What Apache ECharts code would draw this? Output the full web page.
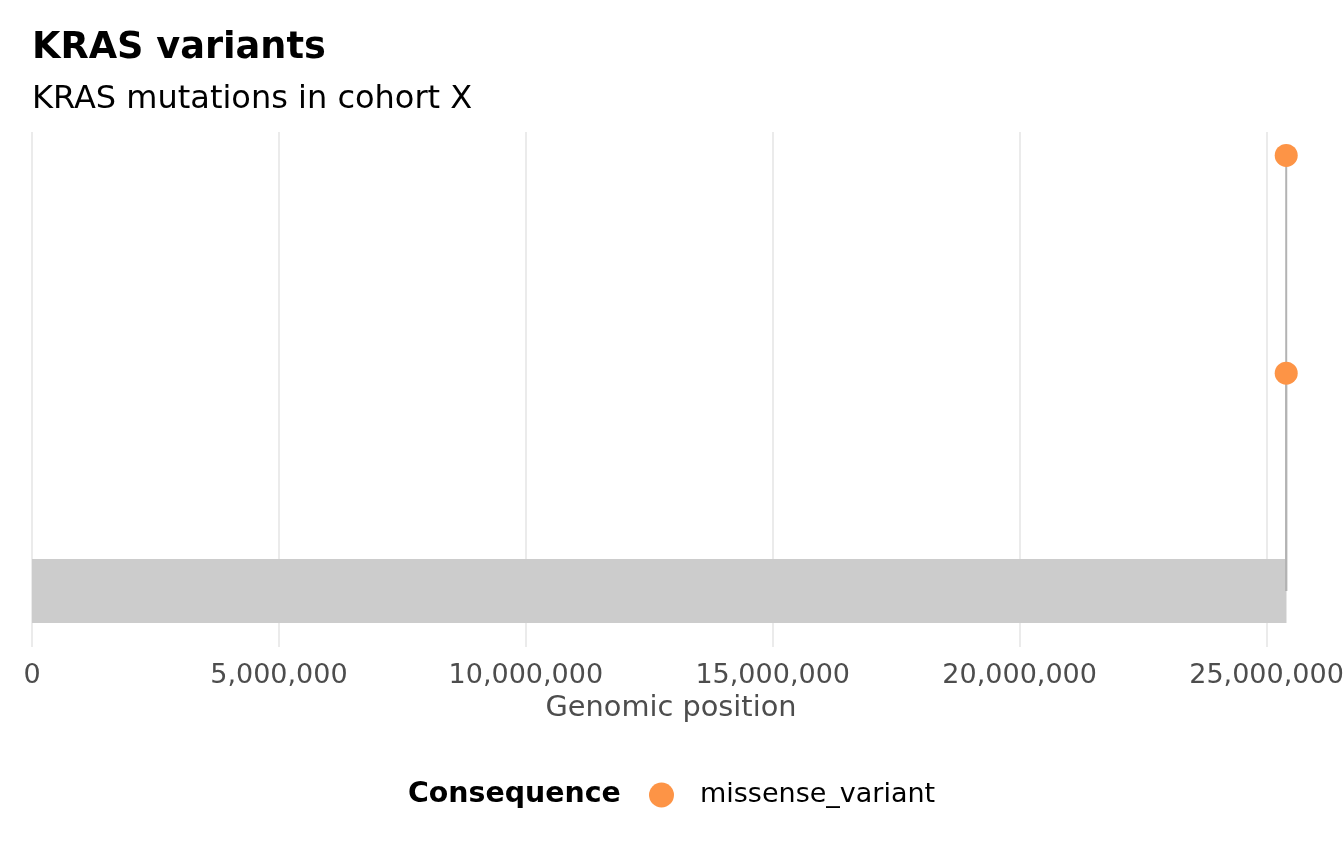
<!DOCTYPE html>
<html>
<head>
<meta charset="utf-8">
<script src="https://cdn.jsdelivr.net/npm/echarts@6/dist/echarts.min.js"></script>
<style>
  html, body { margin: 0; padding: 0; background: #fff; }
  #chart { width: 1344px; height: 864px; }
</style>
</head>
<body>
<div id="chart"></div>
<script>
// variant positions (hg19) and how many samples carry each one
const variantPositions = [25398284, 25398281];
const variantCounts = [2, 1];
const variantConsequence = ['missense_variant', 'missense_variant'];

// gene track drawn as one grey block
const geneStart = 0;
const geneEnd = 25403854;
const geneHalfHeight = 0.147;

const xTicks = [0, 5000000, 10000000, 15000000, 20000000, 25000000];

const chart = echarts.init(document.getElementById('chart'), null, { renderer: 'canvas' });

const fontFamily = 'DejaVu Sans';

const stemData = variantPositions.map((p, i) => [p, variantCounts[i]]);
const pointData = variantPositions.map((p, i) => [p, variantCounts[i], variantConsequence[i]]);

const option = {
  backgroundColor: '#ffffff',
  animation: false,
  textStyle: { fontFamily: fontFamily },
  title: [
    {
      text: 'KRAS variants',
      left: 32, top: 30, padding: 0,
      textStyle: { fontFamily: fontFamily, fontSize: 36.7, lineHeight: 36, fontWeight: 'bold', color: '#000' }
    },
    {
      text: 'KRAS mutations in cohort X',
      left: 32, top: 84, padding: 0,
      textStyle: { fontFamily: fontFamily, fontSize: 32, lineHeight: 32, fontWeight: 'normal', color: '#000' }
    },
    {
      text: 'Consequence',
      left: 408, top: 781, padding: 0,
      textStyle: { fontFamily: fontFamily, fontSize: 28.4, lineHeight: 28, fontWeight: 'bold', color: '#000' }
    }
  ],
  legend: {
    data: ['missense_variant'],
    left: 649, top: 781, padding: 0,
    icon: 'circle',
    itemWidth: 25, itemHeight: 25,
    itemStyle: { opacity: 1 },
    textStyle: { fontFamily: fontFamily, fontSize: 27, lineHeight: 28, color: '#000', padding: [0, 0, 0, 21] }
  },
  grid: { left: 32, right: 34, top: 132, bottom: 217, outerBoundsMode: 'none', containLabel: false },
  xAxis: {
    type: 'value',
    min: 0, max: 25880000,
    interval: 5000000,
    name: 'Genomic position',
    nameLocation: 'middle',
    nameGap: 46,
    nameTextStyle: { fontFamily: fontFamily, fontSize: 28.8, color: '#4d4d4d' },
    axisLine: { show: false },
    axisTick: { show: false },
    axisLabel: {
      fontFamily: fontFamily, fontSize: 27, color: '#4d4d4d', margin: 15,
      showMaxLabel: false,
      formatter: v => xTicks.includes(v) ? v.toLocaleString('en-US') : ''
    },
    splitLine: { show: false }
  },
  yAxis: {
    type: 'value',
    min: -0.2575, max: 2.1075,
    show: false,
    splitLine: { show: false }
  },
  series: [
    {
      name: 'gene',
      type: 'custom',
      silent: true,
      z: 2,
      data: [[geneStart, geneEnd]],
      renderItem: (params, api) => {
        const p0 = api.coord([api.value(0), geneHalfHeight]);
        const p1 = api.coord([api.value(1), -geneHalfHeight]);
        return {
          type: 'rect',
          shape: { x: p0[0], y: p0[1], width: p1[0] - p0[0], height: p1[1] - p0[1] },
          style: { fill: '#cccccc' }
        };
      },
      // vertical grid lines at the labelled positions
      markLine: {
        silent: true,
        symbol: 'none',
        z: 1,
        label: { show: false },
        lineStyle: { color: '#ebebeb', width: 2, type: 'solid' },
        data: xTicks.map(t => ({ xAxis: t }))
      }
    },
    {
      name: 'stems',
      type: 'custom',
      silent: true,
      z: 3,
      data: stemData,
      renderItem: (params, api) => {
        const top = api.coord([api.value(0), api.value(1)]);
        const base = api.coord([api.value(0), 0]);
        return {
          type: 'line',
          shape: { x1: top[0], y1: top[1], x2: base[0], y2: base[1] },
          style: { stroke: '#b3b3b3', lineWidth: 2 }
        };
      }
    },
    {
      name: 'missense_variant',
      type: 'scatter',
      z: 4,
      symbol: 'circle',
      symbolSize: 23,
      data: pointData,
      itemStyle: { color: '#fd9446', opacity: 1 }
    }
  ]
};

chart.setOption(option);
window.addEventListener('resize', () => chart.resize());
</script>
</body>
</html>
